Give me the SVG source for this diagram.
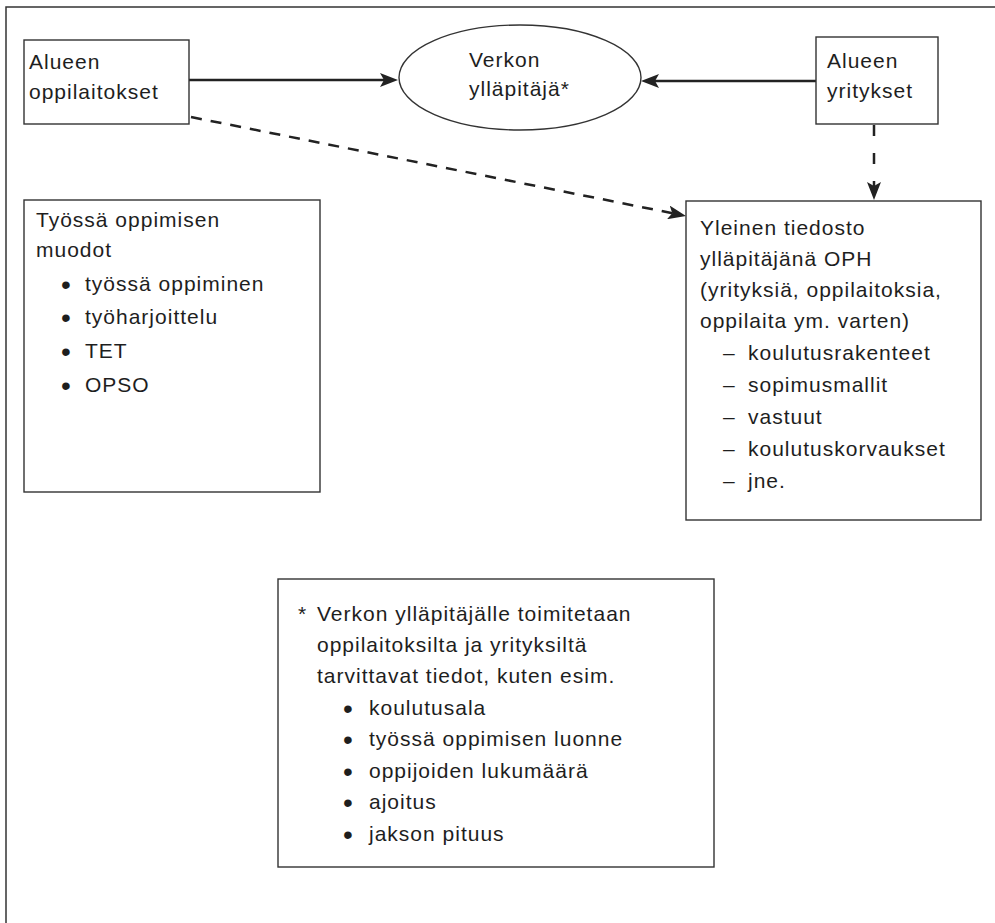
<svg xmlns="http://www.w3.org/2000/svg" width="995" height="923" viewBox="0 0 995 923">
  <style>
    .bg { fill: #ffffff; }
    .frame { fill: none; stroke: #333333; stroke-width: 1.5; }
    .box { fill: #ffffff; stroke: #333333; stroke-width: 1.4; }
    .t { font-family: "Liberation Sans", Arial, sans-serif; font-size: 21px; letter-spacing: 1px; fill: #1e1e1e; }
    .bul { font-size: 28px; letter-spacing: 0; }
    .solid { fill: none; stroke: #222222; stroke-width: 2.5; }
    .dash-diag { fill: none; stroke: #222222; stroke-width: 2.5; stroke-dasharray: 11 9; }
    .dash-vert { fill: none; stroke: #222222; stroke-width: 2.5; stroke-dasharray: 11 17; }
  </style>
  <defs>
    <marker id="arrow" viewBox="0 0 18 14" markerUnits="userSpaceOnUse" markerWidth="18" markerHeight="14" refX="8" refY="7" orient="auto">
      <path d="M0,0 L18,7 L0,14 L4,7 z" fill="#222222"/>
    </marker>
  </defs>

  <rect class="bg" x="0" y="0" width="995" height="923"/>
  <path class="frame" d="M6,923 V7 H995"/>

  <!-- connectors -->
  <g id="connectors">
    <path class="solid" d="M189,80 H388" marker-end="url(#arrow)"/>
    <path class="solid" d="M816,81 H651" marker-end="url(#arrow)"/>
    <path class="dash-diag" d="M191,117 L676.2,214" marker-end="url(#arrow)"/>
    <path class="dash-vert" d="M874,125 V190" marker-end="url(#arrow)"/>
  </g>

  <g id="node-oppilaitokset">
    <rect class="box" x="24" y="40" width="165" height="84"/>
    <text class="t" x="29" y="69">Alueen</text>
    <text class="t" x="29" y="99">oppilaitokset</text>
  </g>

  <g id="node-verkon-yllapitaja">
    <ellipse class="box" cx="520" cy="77.5" rx="121" ry="52.5"/>
    <text class="t" x="469" y="67">Verkon</text>
    <text class="t" x="469" y="96">ylläpitäjä*</text>
  </g>

  <g id="node-yritykset">
    <rect class="box" x="816" y="37" width="122" height="87"/>
    <text class="t" x="827" y="68">Alueen</text>
    <text class="t" x="827" y="98">yritykset</text>
  </g>

  <g id="node-muodot">
    <rect class="box" x="24" y="200" width="296" height="292"/>
    <text class="t" x="36" y="227">Työssä oppimisen</text>
    <text class="t" x="36" y="257">muodot</text>
    <text class="t" y="291"><tspan class="bul" x="61" dy="3">•</tspan><tspan x="85" dy="-3">työssä oppiminen</tspan></text>
    <text class="t" y="324"><tspan class="bul" x="61" dy="3">•</tspan><tspan x="85" dy="-3">työharjoittelu</tspan></text>
    <text class="t" y="358"><tspan class="bul" x="61" dy="3">•</tspan><tspan x="85" dy="-3">TET</tspan></text>
    <text class="t" y="392"><tspan class="bul" x="61" dy="3">•</tspan><tspan x="85" dy="-3">OPSO</tspan></text>
  </g>

  <g id="node-yleinen-tiedosto">
    <rect class="box" x="686" y="201" width="295" height="319"/>
    <text class="t" x="700" y="235">Yleinen tiedosto</text>
    <text class="t" x="700" y="266">ylläpitäjänä OPH</text>
    <text class="t" x="700" y="297">(yrityksiä, oppilaitoksia,</text>
    <text class="t" x="700" y="328">oppilaita ym. varten)</text>
    <text class="t" y="360"><tspan x="723">–</tspan><tspan x="748">koulutusrakenteet</tspan></text>
    <text class="t" y="392"><tspan x="723">–</tspan><tspan x="748">sopimusmallit</tspan></text>
    <text class="t" y="424"><tspan x="723">–</tspan><tspan x="748">vastuut</tspan></text>
    <text class="t" y="456"><tspan x="723">–</tspan><tspan x="748">koulutuskorvaukset</tspan></text>
    <text class="t" y="488"><tspan x="723">–</tspan><tspan x="748">jne.</tspan></text>
  </g>

  <g id="node-footnote">
    <rect class="box" x="278" y="579" width="436" height="288"/>
    <text class="t" y="621"><tspan x="298">*</tspan><tspan x="317">Verkon ylläpitäjälle toimitetaan</tspan></text>
    <text class="t" x="317" y="652">oppilaitoksilta ja yrityksiltä</text>
    <text class="t" x="317" y="683">tarvittavat tiedot, kuten esim.</text>
    <text class="t" y="715"><tspan class="bul" x="343" dy="3">•</tspan><tspan x="369" dy="-3">koulutusala</tspan></text>
    <text class="t" y="746"><tspan class="bul" x="343" dy="3">•</tspan><tspan x="369" dy="-3">työssä oppimisen luonne</tspan></text>
    <text class="t" y="777.5"><tspan class="bul" x="343" dy="3">•</tspan><tspan x="369" dy="-3">oppijoiden lukumäärä</tspan></text>
    <text class="t" y="809"><tspan class="bul" x="343" dy="3">•</tspan><tspan x="369" dy="-3">ajoitus</tspan></text>
    <text class="t" y="840.5"><tspan class="bul" x="343" dy="3">•</tspan><tspan x="369" dy="-3">jakson pituus</tspan></text>
  </g>
</svg>
